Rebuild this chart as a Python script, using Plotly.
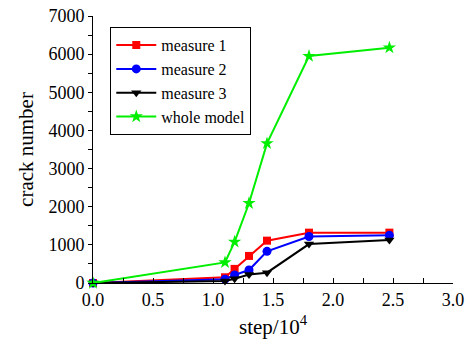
import plotly.graph_objects as go

step = [0.0, 1.10, 1.18, 1.30, 1.45, 1.80, 2.47]
measure1 = [0, 150, 370, 710, 1110, 1320, 1320]
measure2 = [0, 100, 210, 340, 830, 1220, 1250]
measure3 = [0, 50, 110, 220, 270, 1020, 1130]
whole_model = [0, 540, 1080, 2090, 3660, 5950, 6170]

series = [
    ("measure 1", measure1, "#ff0000", "square", 8),
    ("measure 2", measure2, "#0000ff", "circle", 9),
    ("measure 3", measure3, "#000000", "triangle-down", 9),
    ("whole model", whole_model, "#00ee00", "star", 10),
]

fig = go.Figure()
for name, ys, color, sym, sz in series:
    fig.add_trace(go.Scatter(
        x=step, y=ys, name=name, mode="lines+markers",
        line=dict(color=color, width=2),
        marker=dict(symbol=sym, size=sz, color=color),
        cliponaxis=False,
    ))

font = "Liberation Serif"
fig.update_layout(
    width=470, height=341,
    margin=dict(l=93, r=17, t=16, b=58),
    paper_bgcolor="white", plot_bgcolor="white",
    font=dict(family=font, size=18, color="black"),
    showlegend=True,
    legend=dict(
        x=0.048, y=0.958, xanchor="left", yanchor="top",
        bordercolor="black", borderwidth=1, bgcolor="white",
        font=dict(family=font, size=16, color="black"),
        tracegroupgap=0, itemwidth=40,
    ),
    xaxis=dict(
        range=[0, 3.0], dtick=0.5, tick0=0, tickformat=".1f",
        automargin=False,
        showline=True, linecolor="black", linewidth=1,
        ticks="inside", ticklen=5, tickcolor="black",
        tickfont=dict(family=font, size=18),
        minor=dict(dtick=0.25, ticks="inside", ticklen=5, tickcolor="black"),
        showgrid=False, zeroline=False, mirror=False,
        title=dict(text="step/10<sup>4</sup>", font=dict(family=font, size=21), standoff=10),
    ),
    yaxis=dict(
        range=[0, 7000], dtick=1000, tick0=0,
        automargin=False,
        showline=True, linecolor="black", linewidth=1,
        ticks="outside", ticklen=4, tickcolor="black",
        tickfont=dict(family=font, size=18),
        minor=dict(dtick=500, ticks="outside", ticklen=4, tickcolor="black"),
        showgrid=False, zeroline=False, mirror=False,
        title=dict(text="crack number", font=dict(family=font, size=21), standoff=9),
    ),
)

fig.write_html("out.html")
